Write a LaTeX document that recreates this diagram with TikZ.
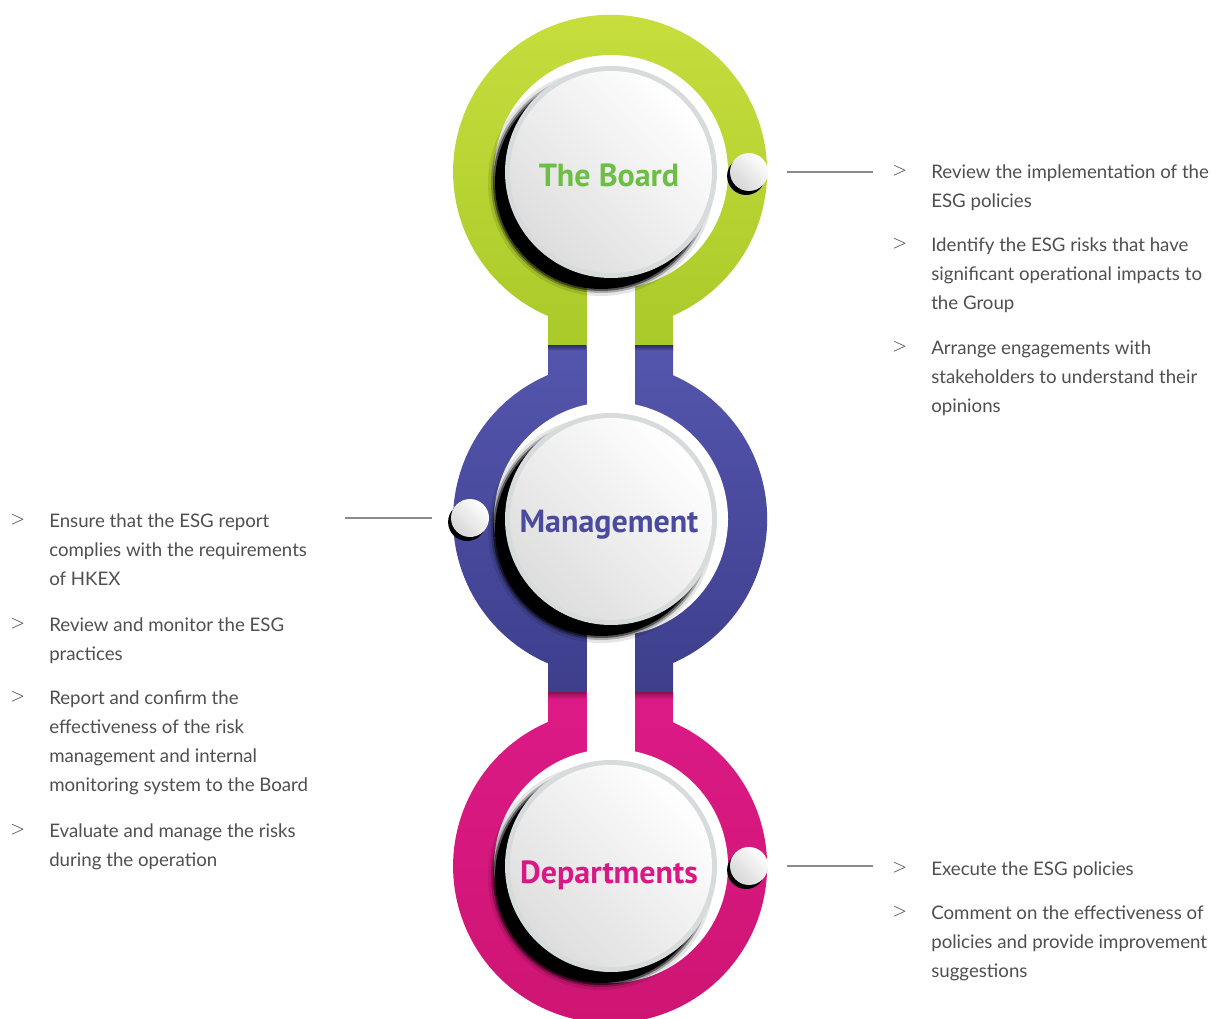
\documentclass[tikz,border=0pt]{standalone}
\usepackage{fontspec}
\setmainfont{Lato}
\newfontfamily\titlefont{PT Sans}
\usetikzlibrary{positioning}

\definecolor{boardtop}{HTML}{C9DF3E}
\definecolor{boardbot}{HTML}{A9CA29}
\definecolor{boardtext}{HTML}{6CBE45}
\definecolor{mgmttop}{HTML}{5456AD}
\definecolor{mgmtbot}{HTML}{3E3E8D}
\definecolor{mgmttext}{HTML}{4A4B9F}
\definecolor{depttop}{HTML}{DC1A87}
\definecolor{deptbot}{HTML}{CD1571}
\definecolor{depttext}{HTML}{DA1783}
\definecolor{discedge}{HTML}{D7DBDB}
\definecolor{dutygray}{HTML}{4F4F4F}
\definecolor{leadergray}{HTML}{8A8A8A}

\tikzset{
  title/.style={anchor=base,inner sep=0pt,font=\titlefont\bfseries\fontsize{24}{24}\selectfont},
  duty/.style={anchor=north west,inner sep=0pt,align=left,text=dutygray,
    font=\fontsize{14}{21.75}\selectfont},
  chevron/.style={anchor=west,inner sep=0pt,text=dutygray!80!black,
    font=\fontsize{15.5}{15.5}\selectfont},
  leader/.style={draw=leadergray,line width=1.5pt,shorten <=14pt},
  knob/.style={circle,minimum size=28.5pt,inner sep=0pt,
    top color=white,bottom color=black!16,shading angle=-45,
    preaction={fill=black,transform canvas={xshift=-2.2pt,yshift=-3pt}}},
}

\begin{document}
\begin{tikzpicture}[x=0.75pt,y=-0.75pt]
\useasboundingbox (0,0) rectangle (1223,1019);

% rings with their bars
\shade[top color=boardtop,bottom color=boardbot]
  (548,346) -- (548,316) arc[start angle=113.3,end angle=426.4,radius=157]
  -- (673,346) -- cycle;
\shade[top color=mgmttop,bottom color=mgmtbot]
  (548,346) -- (548,375) arc[start angle=246.7,end angle=113.3,radius=157]
  -- (548,692) -- (673,692) -- (673,663)
  arc[start angle=66.4,end angle=-66.4,radius=157] -- (673,346) -- cycle;
\shade[top color=depttop,bottom color=deptbot]
  (548,692) -- (548,722) arc[start angle=246.7,end angle=-66.4,radius=157]
  -- (673,692) -- cycle;
\foreach \x in {548,635}{
  \shade[top color=mgmtbot!80!black,bottom color=mgmttop] (\x,346) rectangle ++(38,5);
  \shade[top color=deptbot!70!black,bottom color=depttop] (\x,692) rectangle ++(38,7);
}

% white hollows and the slot between the bars
\fill[white] (611,172) circle (117) (611,519) circle (117) (611,866) circle (117);
\fill[white] (587,172) rectangle (635,866);

% discs
\foreach \y in {172,519,866}{
  \foreach \r/\o in {113/0.1,110/0.25,108/0.5,106/1}
    \fill[black,opacity=\o] (601,\y+11) circle (\r);
  \fill[discedge] (611,\y) circle (106);
  \shade[top color=white,bottom color=black!13,shading angle=-45] (611,\y) circle (101);
}

\node[title,text=boardtext] (board) at (609,187) {The Board};
\node[title,text=mgmttext] (mgmt) at (609,532) {Management};
\node[title,text=depttext] (dept) at (609,883) {Departments};

% knobs and leaders
\node[knob] (bknob) at (749,172) {};
\node[knob] (mknob) at (470,518) {};
\node[knob] (dknob) at (749,866) {};
\coordinate (bend) at (873,172);
\coordinate (mend) at (345,518);
\coordinate (dend) at (873,866);
\draw[leader] (bknob) -- (bend);
\draw[leader] (mknob) -- (mend);
\draw[leader] (dknob) -- (dend);

% duties of the board
\node[chevron] (b1c) at (892,171) {$>$};
\node[duty] (b1) at (931,164) {Review the implementation of the\\ESG policies};
\node[chevron] (b2c) at (892,244) {$>$};
\node[duty] (b2) at (931,237) {Identify the ESG risks that have\\significant operational impacts to\\the Group};
\node[chevron] (b3c) at (892,347) {$>$};
\node[duty] (b3) at (931,340) {Arrange engagements with\\stakeholders to understand their\\opinions};

% duties of management
\node[chevron] (m1c) at (10,520) {$>$};
\node[duty] (m1) at (49,513) {Ensure that the ESG report\\complies with the requirements\\of HKEX};
\node[chevron] (m2c) at (10,624) {$>$};
\node[duty] (m2) at (49,617) {Review and monitor the ESG\\practices};
\node[chevron] (m3c) at (10,697) {$>$};
\node[duty] (m3) at (49,690) {Report and confirm the\\effectiveness of the risk\\management and internal\\monitoring system to the Board};
\node[chevron] (m4c) at (10,830) {$>$};
\node[duty] (m4) at (49,823) {Evaluate and manage the risks\\during the operation};

% duties of departments
\node[chevron] (d1c) at (892,868) {$>$};
\node[duty] (d1) at (931,861) {Execute the ESG policies};
\node[chevron] (d2c) at (892,912) {$>$};
\node[duty] (d2) at (931,905) {Comment on the effectiveness of\\policies and provide improvement\\suggestions};
\end{tikzpicture}
\end{document}
